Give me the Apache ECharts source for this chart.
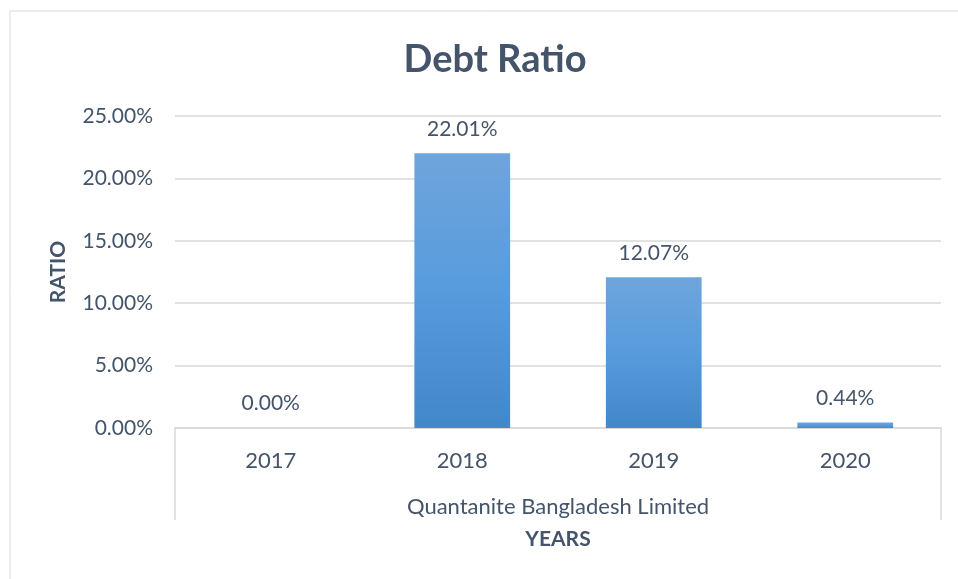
<!DOCTYPE html>
<html>
<head>
<meta charset="utf-8">
<script src="https://cdn.jsdelivr.net/npm/echarts@6/dist/echarts.min.js"></script>
<style>html,body{margin:0;padding:0;background:#fff;}#c{width:958px;height:579px;}</style>
</head>
<body>
<div id="c"></div>
<script>
const categories = ['2017', '2018', '2019', '2020'];
const groupLabel = ['Quantanite Bangladesh Limited'];
const debtRatio = [0.00, 22.01, 12.07, 0.44];
const yTicks = { min: 0, max: 25, interval: 5 };

const textColor = '#44546A';
const font = 'Lato';
const chart = echarts.init(document.getElementById('c'));
chart.setOption({
  backgroundColor: '#fff',
  animation: false,
  graphic: [{
    type: 'rect', shape: { x: 10, y: 11, width: 1000, height: 700 },
    style: { fill: 'none', stroke: '#D9D9D9', lineWidth: 1 }, silent: true, z: -1
  }],
  title: {
    text: 'Debt Ratio', left: 490, textAlign: 'center', top: 36,
    textStyle: { fontFamily: font, fontSize: 38, fontWeight: 'bold', color: textColor }
  },
  grid: { left: 175, right: 17, top: 116, bottom: 151 },
  xAxis: [{
    type: 'category', data: categories, position: 'bottom',
    axisLine: { lineStyle: { color: '#D9D9D9', width: 1.5 } },
    axisTick: { show: false },
    axisLabel: { margin: 22, fontFamily: font, fontSize: 22, color: textColor }
  }, {
    type: 'category', data: groupLabel, position: 'bottom',
    axisLine: { show: false },
    axisTick: { show: true, length: 92, lineStyle: { color: '#D9D9D9', width: 1.5 } },
    axisLabel: { margin: 68, fontFamily: font, fontSize: 22, color: textColor },
    name: 'YEARS', nameLocation: 'middle', nameGap: 101,
    nameTextStyle: { fontFamily: font, fontSize: 21, fontWeight: 'bold', color: textColor }
  }],
  yAxis: {
    type: 'value', min: yTicks.min, max: yTicks.max, interval: yTicks.interval,
    name: 'RATIO', nameLocation: 'middle', nameGap: 106, nameRotate: 90,
    nameTextStyle: { fontFamily: font, fontSize: 21, fontWeight: 'bold', color: textColor },
    axisLine: { show: false }, axisTick: { show: false },
    axisLabel: { margin: 22, fontFamily: font, fontSize: 21, color: textColor,
      formatter: v => v.toFixed(2) + '%' },
    splitLine: { lineStyle: { color: '#D9D9D9', width: 1.5 } }
  },
  series: [{
    type: 'bar', data: debtRatio, xAxisIndex: 0, barWidth: '50%',
    itemStyle: {
      color: new echarts.graphic.LinearGradient(0, 0, 0, 1, [
        { offset: 0, color: '#6FA5DB' },
        { offset: 0.5, color: '#579BDD' },
        { offset: 1, color: '#4287C9' }
      ])
    },
    label: {
      show: true, position: 'top', distance: 14,
      fontFamily: font, fontSize: 21, color: textColor,
      formatter: p => p.value.toFixed(2) + '%'
    }
  }]
});
</script>
</body>
</html>
